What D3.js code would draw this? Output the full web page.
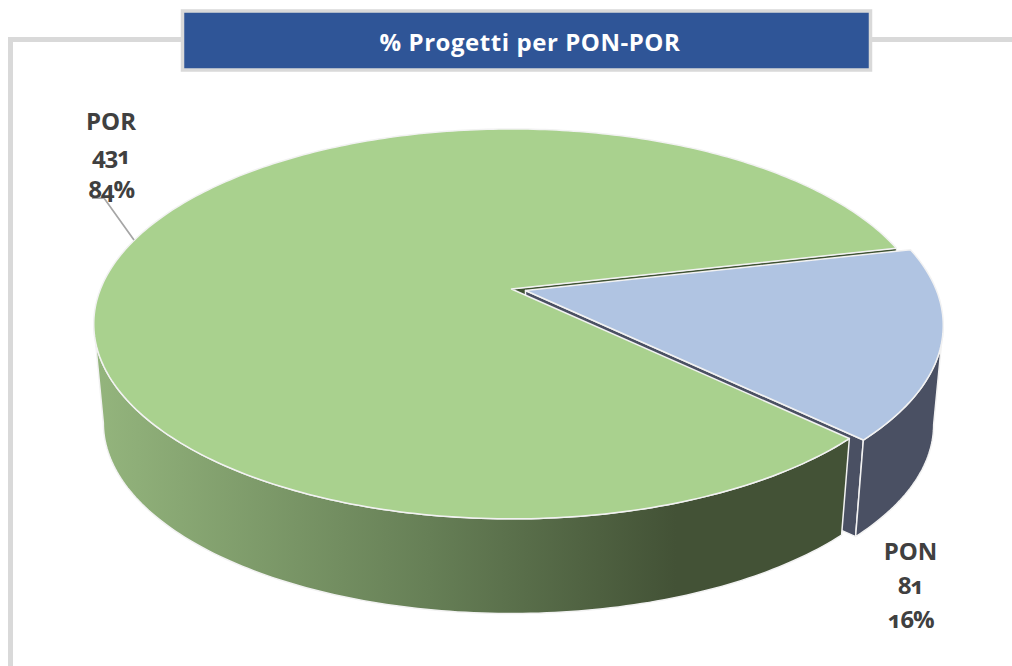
<!DOCTYPE html>
<html>
<head>
<meta charset="utf-8">
<script src="https://cdn.jsdelivr.net/npm/d3@7"></script>
<style>
  html, body { margin: 0; padding: 0; background: #fff; }
  svg { display: block; }
  text { font-family: "Open Sans", "Noto Sans", sans-serif; font-variant-numeric: oldstyle-nums; }
</style>
</head>
<body>
<div id="chart"></div>
<script>
var categories = ["PON", "POR"];
var projects = [81, 431];
var percentLabels = ["16%", "84%"];
var chartTitle = "% Progetti per PON-POR";

var width = 1012, height = 666;

// tilt of the pie: 3d disc seen in perspective
const CX = 511.5, CY = 289, RX = 411, RY = 188.7, PERSP = 0.179;
const DEPTH = 100, BOTTOM_SCALE = 0.977;
const EXPLODE_X = 14, EXPLODE_Y = 1.5;
const START = 77 * Math.PI / 180;

const COLOR_FRAME = "#d9d9d9";
const COLOR_TEXT = "#404040";
const topColors = ["#b0c4e2", "#a9d18e"];

var svg = d3.select("#chart").append("svg")
  .attr("width", width)
  .attr("height", height);

var defs = svg.append("defs");
var grad = defs.append("linearGradient")
  .attr("id", "greenWall")
  .attr("gradientUnits", "userSpaceOnUse")
  .attr("x1", 94).attr("x2", 840).attr("y1", 0).attr("y2", 0);
grad.append("stop").attr("offset", "0%").attr("stop-color", "#94b57d");
grad.append("stop").attr("offset", "45%").attr("stop-color", "#667f56");
grad.append("stop").attr("offset", "78%").attr("stop-color", "#435236");
grad.append("stop").attr("offset", "100%").attr("stop-color", "#435236");

// frame behind the title
svg.append("path")
  .attr("d", d3.line()([[10.5, height], [10.5, 39.5], [width, 39.5]]))
  .attr("fill", "none")
  .attr("stroke", COLOR_FRAME)
  .attr("stroke-width", 5);

svg.append("rect")
  .attr("x", 182.5).attr("y", 11)
  .attr("width", 688).attr("height", 59)
  .attr("fill", "#2f5597")
  .attr("stroke", COLOR_FRAME)
  .attr("stroke-width", 3.5);

svg.append("text")
  .attr("x", 530).attr("y", 51)
  .attr("text-anchor", "middle")
  .attr("fill", "#fff")
  .style("font-size", "24px")
  .style("font-weight", 700)
  .style("letter-spacing", "0.55px")
  .text(chartTitle);

var pie = d3.pie().sort(null).startAngle(START).endAngle(START + 2 * Math.PI);
var slices = pie(projects);

// angle is clockwise from 12 o'clock like d3.arc; level 0 is the top face, 1 the bottom
function project(r, a, level, off) {
  var X = r * Math.sin(a), Y = -r * Math.cos(a);
  var w = 1 - PERSP * Y;
  var s = level ? BOTTOM_SCALE : 1;
  return [CX + off[0] + s * RX * X / w, CY + off[1] + (level ? DEPTH : 0) + s * RY * Y / w];
}

function arcPoints(a0, a1, level, off) {
  var n = Math.ceil(Math.abs(a1 - a0) * 60);
  return d3.range(n + 1).map(i => project(1, a0 + (a1 - a0) * i / n, level, off));
}

var line = d3.line();
var por = slices[1], pon = slices[0];
var noOff = [0, 0], ponOff = [EXPLODE_X, EXPLODE_Y];

// where the tilted disc has its left and right extremes, the wall outline ends there
var rightEdge = Math.acos(-PERSP);
var leftEdge = 2 * Math.PI - rightEdge;

var g = svg.append("g").attr("stroke-linejoin", "round");

function face(points, fill, strokeWidth) {
  g.append("path")
    .attr("d", line(points) + "Z")
    .attr("fill", fill)
    .attr("stroke", "#f2f2f2")
    .attr("stroke-width", strokeWidth);
}

// green cut face that shows through the gap along the upper edge
face([project(0, 0, 0, noOff), project(1, por.endAngle, 0, noOff), project(1, por.endAngle, 1, noOff), project(0, 0, 1, noOff)], "#3f5233", 1);

// blue cut face, then blue outer wall
face([project(0, 0, 0, ponOff), project(1, pon.endAngle, 0, ponOff), project(1, pon.endAngle, 1, ponOff), project(0, 0, 1, ponOff)], "#4a5063", 1.5);
face(arcPoints(rightEdge, pon.endAngle, 0, ponOff).concat(arcPoints(pon.endAngle, rightEdge, 1, ponOff)), "#4a5063", 1.5);

// green outer wall, only the front part can be seen
face(arcPoints(por.startAngle, leftEdge, 0, noOff).concat(arcPoints(leftEdge, por.startAngle, 1, noOff)), "url(#greenWall)", 1.5);

// top faces
face([project(0, 0, 0, noOff)].concat(arcPoints(por.startAngle, por.endAngle, 0, noOff)), topColors[1], 1.5);
face([project(0, 0, 0, ponOff)].concat(arcPoints(pon.startAngle, pon.endAngle, 0, ponOff)), topColors[0], 1.5);

// leader for POR
svg.append("path")
  .attr("d", line([[134, 240], [104, 198], [92, 198]]))
  .attr("fill", "none")
  .attr("stroke", "#a6a6a6")
  .attr("stroke-width", 1.75);

var labelPos = [[910.5, 560], [111, 130]];
categories.forEach((c, i) => {
  var t = svg.append("text")
    .attr("text-anchor", "middle")
    .attr("fill", COLOR_TEXT)
    .style("font-size", "24px")
    .style("font-weight", 700);
  [c, projects[i], percentLabels[i]].forEach((s, j) => {
    t.append("tspan")
      .attr("x", labelPos[i][0])
      .attr("y", labelPos[i][1] + j * 34)
      .style("letter-spacing", j ? "-1.2px" : "0")
      .text(s);
  });
});
</script>
</body>
</html>
